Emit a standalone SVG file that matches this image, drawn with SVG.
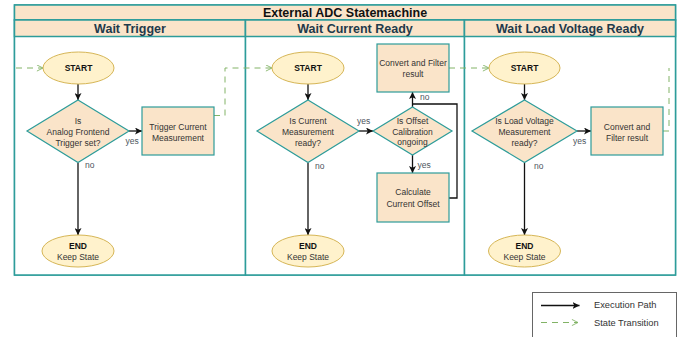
<svg xmlns="http://www.w3.org/2000/svg" width="680" height="337" viewBox="0 0 680 337">
  <style>
    .frame { fill: #ffffff; stroke: #2d9c9a; stroke-width: 1.5; }
    .band { fill: #fae4c9; stroke: #2d9c9a; stroke-width: 1.5; }
    .title { font-family: "Liberation Sans", Arial, sans-serif; font-weight: bold; font-size: 12.5px; fill: #111111; text-anchor: middle; }
    .lane-title { font-family: "Liberation Sans", Arial, sans-serif; font-weight: bold; font-size: 12.5px; fill: #1f3a4b; text-anchor: middle; }
    .term { fill: #fff2cc; stroke: #d6b656; stroke-width: 1; }
    .proc { fill: #fae4c9; stroke: #2d9c9a; stroke-width: 1.2; }
    .txt { font-family: "Liberation Sans", Arial, sans-serif; font-size: 8.5px; fill: #333333; text-anchor: middle; }
    .bold { font-weight: bold; fill: #111111; }
    .lbl { font-family: "Liberation Sans", Arial, sans-serif; font-size: 8.5px; fill: #4d5560; }
    .exec { fill: none; stroke: #111111; stroke-width: 1.3; marker-end: url(#arrow); }
    .trans { fill: none; stroke: #82b366; stroke-width: 1; stroke-dasharray: 6 5; marker-end: url(#open); }
    .legend-txt { font-family: "Liberation Sans", Arial, sans-serif; font-size: 9.3px; fill: #333333; }
  </style>
  <defs>
    <marker id="arrow" viewBox="0 0 8 8" refX="8" refY="4" markerWidth="7" markerHeight="7" markerUnits="userSpaceOnUse" orient="auto">
      <path d="M0,0 L8,4 L0,8 L2,4 z" fill="#111111"/>
    </marker>
    <marker id="open" viewBox="0 0 8 8" refX="7.5" refY="4" markerWidth="7" markerHeight="7" markerUnits="userSpaceOnUse" orient="auto">
      <path d="M0.5,0.5 L7.5,4 L0.5,7.5" fill="none" stroke="#82b366" stroke-width="1"/>
    </marker>
  </defs>

  <rect width="680" height="337" fill="#ffffff"/>

  <!-- pool with three lanes -->
  <g id="pool">
    <rect class="frame" x="14.5" y="5" width="661" height="270"/>
    <rect class="band" x="14.5" y="5" width="661" height="15"/>
    <text class="title" x="345" y="17">External ADC Statemachine</text>
  </g>
  <g id="lane-wait-trigger">
    <rect class="frame" x="14.5" y="20" width="231" height="255"/>
    <rect class="band" x="14.5" y="20" width="231" height="16.5"/>
    <text class="lane-title" x="130" y="33">Wait Trigger</text>
  </g>
  <g id="lane-wait-current">
    <rect class="frame" x="245.5" y="20" width="219" height="255"/>
    <rect class="band" x="245.5" y="20" width="219" height="16.5"/>
    <text class="lane-title" x="355" y="33">Wait Current Ready</text>
  </g>
  <g id="lane-wait-voltage">
    <rect class="frame" x="464.5" y="20" width="211" height="255"/>
    <rect class="band" x="464.5" y="20" width="211" height="16.5"/>
    <text class="lane-title" x="570" y="33">Wait Load Voltage Ready</text>
  </g>

  <!-- connectors -->
  <g id="connectors">
    <path class="trans" d="M16,68 H43"/>
    <path class="trans" d="M214,115.5 H225 V68 H272"/>
    <path class="trans" d="M449,68 H489"/>
    <path class="trans" d="M663,131 H669 V68" style="marker-end:none"/>

    <path class="exec" d="M78,84 V100"/>
    <path class="exec" d="M129,131 H142"/>
    <path class="exec" d="M78,163 V235"/>

    <path class="exec" d="M308,84 V100"/>
    <path class="exec" d="M359,131 H373"/>
    <path class="exec" d="M308,163 V235"/>
    <path class="exec" d="M412.5,155 V173"/>
    <path class="exec" d="M412.5,107 V92"/>
    <path fill="none" stroke="#111111" stroke-width="1.3" d="M449,198 H457 V104 H412.5"/>

    <path class="exec" d="M524.5,84 V100"/>
    <path class="exec" d="M577,131 H591"/>
    <path class="exec" d="M524.5,163 V235"/>

    <text class="lbl" x="125.5" y="144">yes</text>
    <text class="lbl" x="85" y="167.5">no</text>
    <text class="lbl" x="357" y="124">yes</text>
    <text class="lbl" x="315" y="168.5">no</text>
    <text class="lbl" x="420" y="100">no</text>
    <text class="lbl" x="417.5" y="167.5">yes</text>
    <text class="lbl" x="573" y="144">yes</text>
    <text class="lbl" x="534" y="168.5">no</text>
  </g>

  <!-- Wait Trigger nodes -->
  <g id="wt-start">
    <ellipse class="term" cx="78.5" cy="68" rx="35.5" ry="16"/>
    <text class="txt bold" x="78.5" y="71.3">START</text>
  </g>
  <g id="wt-decision">
    <polygon class="proc" points="78,100 129,131 78,162.5 27,131"/>
    <text class="txt" x="78" y="123.5">Is</text>
    <text class="txt" x="78" y="134.5">Analog Frontend</text>
    <text class="txt" x="78" y="145.5">Trigger set?</text>
  </g>
  <g id="wt-trigger">
    <rect class="proc" x="142" y="107" width="72" height="48"/>
    <text class="txt" x="178" y="129.5">Trigger Current</text>
    <text class="txt" x="178" y="140.5">Measurement</text>
  </g>
  <g id="wt-end">
    <ellipse class="term" cx="78" cy="251" rx="36" ry="16"/>
    <text class="txt bold" x="78" y="249">END</text>
    <text class="txt" x="78" y="260">Keep State</text>
  </g>

  <!-- Wait Current Ready nodes -->
  <g id="wc-start">
    <ellipse class="term" cx="308" cy="68" rx="36" ry="16"/>
    <text class="txt bold" x="308" y="71.3">START</text>
  </g>
  <g id="wc-decision">
    <polygon class="proc" points="308,100 359,131 308,162.5 257,131"/>
    <text class="txt" x="308" y="123.5">Is Current</text>
    <text class="txt" x="308" y="134.5">Measurement</text>
    <text class="txt" x="308" y="145.5">ready?</text>
  </g>
  <g id="wc-offset-check">
    <polygon class="proc" points="412.5,107 452,131 412.5,155 373,131"/>
    <text class="txt" x="412.5" y="124">Is Offset</text>
    <text class="txt" x="412.5" y="134.5">Calibration</text>
    <text class="txt" x="412.5" y="145">ongoing</text>
  </g>
  <g id="wc-convert">
    <rect class="proc" x="377" y="44" width="72" height="48"/>
    <text class="txt" x="413" y="66">Convert and Filter</text>
    <text class="txt" x="413" y="76.5">result</text>
  </g>
  <g id="wc-offset">
    <rect class="proc" x="377" y="173" width="72" height="49"/>
    <text class="txt" x="413" y="195">Calculate</text>
    <text class="txt" x="413" y="206.5">Current Offset</text>
  </g>
  <g id="wc-end">
    <ellipse class="term" cx="308" cy="251" rx="36" ry="16"/>
    <text class="txt bold" x="308" y="249">END</text>
    <text class="txt" x="308" y="260">Keep State</text>
  </g>

  <!-- Wait Load Voltage Ready nodes -->
  <g id="wv-start">
    <ellipse class="term" cx="524.5" cy="68" rx="35.5" ry="16"/>
    <text class="txt bold" x="524.5" y="71.3">START</text>
  </g>
  <g id="wv-decision">
    <polygon class="proc" points="524.5,100 577,131 524.5,162.5 472,131"/>
    <text class="txt" x="524.5" y="123.5">Is Load Voltage</text>
    <text class="txt" x="524.5" y="134.5">Measurement</text>
    <text class="txt" x="524.5" y="145.5">ready?</text>
  </g>
  <g id="wv-convert">
    <rect class="proc" x="591" y="107" width="72" height="48"/>
    <text class="txt" x="627" y="129.5">Convert and</text>
    <text class="txt" x="627" y="140.5">Filter result</text>
  </g>
  <g id="wv-end">
    <ellipse class="term" cx="524.5" cy="251" rx="36" ry="16"/>
    <text class="txt bold" x="524.5" y="249">END</text>
    <text class="txt" x="524.5" y="260">Keep State</text>
  </g>

  <!-- legend -->
  <g id="legend">
    <rect x="532.5" y="292.5" width="144" height="60" fill="#ffffff" stroke="#666666" stroke-width="1"/>
    <path class="exec" d="M541,305.5 H579.5"/>
    <text class="legend-txt" x="594" y="308">Execution Path</text>
    <path class="trans" d="M541,322.5 H578"/>
    <text class="legend-txt" x="594" y="325.7">State Transition</text>
  </g>
</svg>
